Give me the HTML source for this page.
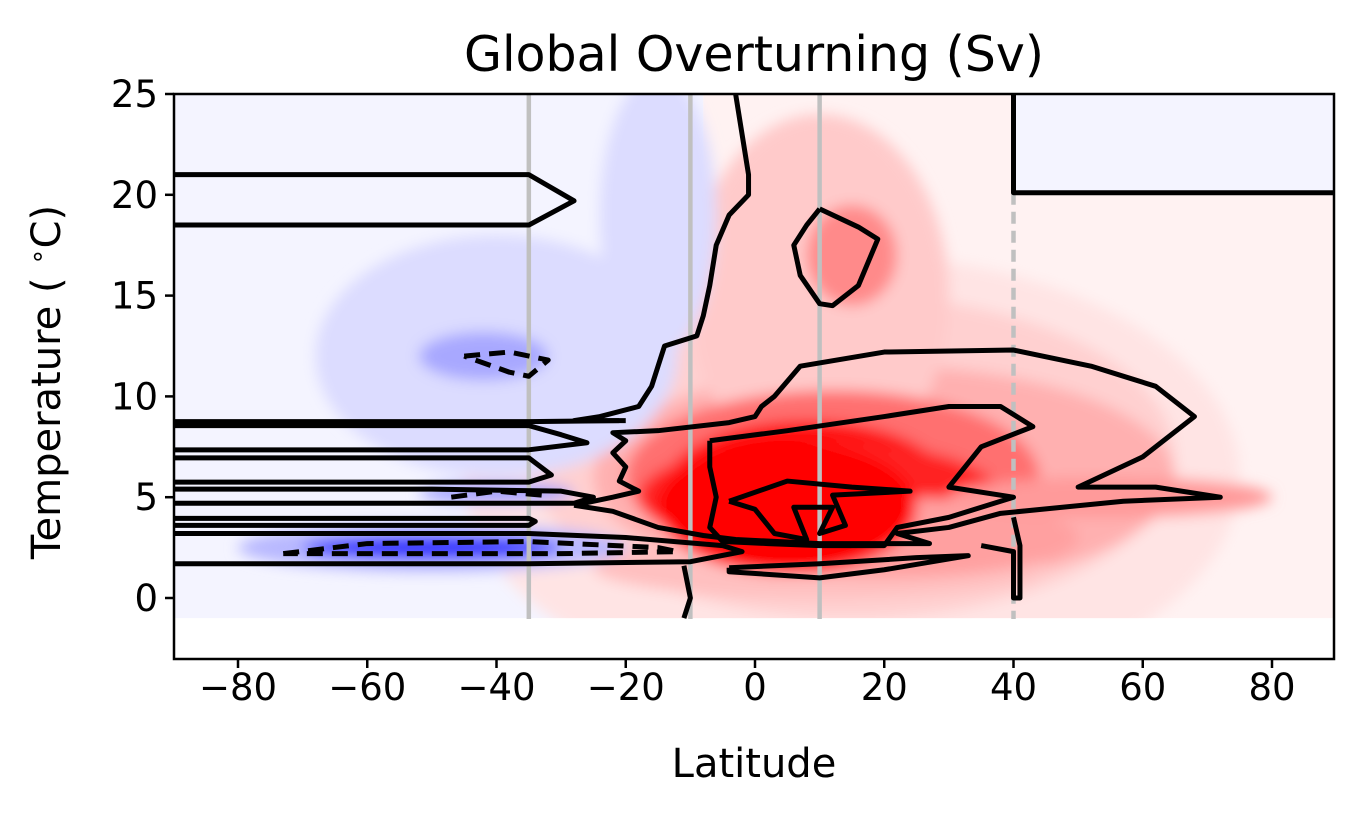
<!DOCTYPE html>
<html><head><meta charset="utf-8"><style>
body{margin:0;background:#fff}
svg{display:block;font-family:"DejaVu Sans","Liberation Sans",sans-serif}
</style></head><body>
<svg id="chart" width="1365" height="815" viewBox="0 0 1365 815" xmlns="http://www.w3.org/2000/svg">
<defs>
<clipPath id="clipData"><rect x="174" y="94" width="1160" height="525"/></clipPath>
<filter id="blur" x="-20%" y="-20%" width="140%" height="140%"><feGaussianBlur stdDeviation="7"/></filter>
</defs>
<text x="754" y="71" text-anchor="middle" font-size="49">Global Overturning (Sv)</text>
<g id="fills" clip-path="url(#clipData)"></g>
<g id="lines" clip-path="url(#clipData)"></g>
<rect x="174" y="94" width="1160" height="565" fill="none" stroke="#000" stroke-width="2.5"/>
<g id="axes"></g>
<text x="754" y="777" text-anchor="middle" font-size="40">Latitude</text>
<text transform="translate(60,382) rotate(-90)" text-anchor="middle" font-size="40">Temperature ( <tspan font-size="26" dy="-14">∘</tspan><tspan dy="14">C)</tspan></text>
</svg>
<script>
const xTicks=[-80,-60,-40,-20,0,20,40,60,80];
const yTicks=[0,5,10,15,20,25];
const refLats=[-35,-10,10];
const dashedRefLat=40;
const blobLat=[ 15, 15, 20, 10, 12, 8, 15, 10, 10, 20, 55, -40,-42,-50,-50,-40,-15, 5];
const blobTemp=[6, 7, 6, 15, 6, 5.5, 17, 5, 1.5, 3, 5, 12, 12, 2.5, 2.5, 5.2, 19, 4.5];
const blobRx=[60, 50, 45, 20, 32, 22, 7, 28, 35, 30, 25, 28, 10, 30, 20, 12, 9, 20];
const blobRy=[11, 8, 5.5, 9, 4.3, 3.3, 2.5, 2.8, 1.5, 2, 1.0, 6, 1.2, 1.2, 0.6, 0.5, 7, 3.3];
const blobColor=["#ffe4e4","#ffd0d0","#ffb0b0","#ffcaca","#ff7070","#ff1010","#ff8a8a","#ff2020","#ffc0c0","#ffa0a0","#ff9a9a","#dcdcff","#a8a8ff","#b8b8ff","#3030ff","#a0a0ff","#dcdcff","#ff0000"];
const contours=[
 {d:false,p:[[-90,21],[-35,21],[-28,19.7],[-35,18.5],[-90,18.5]]},
 {d:false,p:[[-3,25],[-2,23],[-1,21],[-1,20],[-4,19],[-6,17.5],[-7,15.5],[-8,14],[-9,13],[-14,12.5],[-15,11.5],[-16,10.5],[-18,9.5],[-24,9],[-28,8.8],[-20,8.8]]},
 {d:false,p:[[-90,8.75],[-35,8.75],[-21,8.8]]},
 {d:false,p:[[-90,8.55],[-35,8.55],[-30,8.1],[-26,7.7],[-35,7.35],[-90,7.35]]},
 {d:false,p:[[-90,6.95],[-35,6.95],[-31.5,6.1],[-35,5.75],[-90,5.75]]},
 {d:false,p:[[-90,5.4],[-50,5.4],[-30,5.3],[-25,5.0],[-28,4.7],[-90,4.7]]},
 {d:false,p:[[-90,3.95],[-35,3.95],[-34,3.8],[-35,3.6],[-90,3.6]]},
 {d:false,p:[[-90,3.2],[-35,3.2],[-20,3.0],[-5,2.6],[-2,2.3],[-10,1.8],[-35,1.7],[-90,1.7]]},
 {d:false,p:[[-11,1.6],[-10,0],[-11,-1]]},
 {d:false,p:[[-28,4.6],[-22,4.3],[-15,3.5],[-8,3.1],[-3,2.9],[10,2.7],[20,2.7],[27,2.7],[22,3.2],[30,3.5],[38,4.2],[57,4.8],[72,5],[62,5.5],[50,5.5],[60,7],[68,9],[62,10.5],[52,11.5],[40,12.3],[20,12.2],[7,11.5],[3,10],[1,9.5],[0,9],[-4,8.7],[-15,8.3],[-22,8.2],[-20,7.8],[-22,7.2],[-20,6.5],[-21,5.8],[-18,5.3],[-22,5.0],[-28,4.6]]},
 {d:false,p:[[-7,7.8],[5,8.3],[20,9],[30,9.5],[38,9.5],[43,8.5],[35,7.5],[30,5.5],[40,5.0],[30,4.0],[22,3.5],[20,2.6],[10,2.6],[2,2.7],[-5,2.8],[-7,3.5],[-6,5],[-7,6.5],[-7,7.8]]},
 {d:false,p:[[-4,4.8],[5,5.8],[15,5.5],[24,5.3],[12,5.1],[14,3.6],[10,3.2],[12,4.5],[6,4.5],[8,2.9],[3,3.2],[0,4.4],[-4,4.8]]},
 {d:false,p:[[10,19.3],[16,18.4],[19,17.8],[16,15.5],[12,14.5],[10,14.6],[7,16],[6,17.5],[8,18.5],[10,19.3]]},
 {d:false,p:[[-4,1.5],[10,1.7],[25,2.0],[33,2.1],[20,1.4],[10,1.0],[-4,1.3],[-4,1.5]]},
 {d:false,p:[[40,25],[40,20.1],[90,20.1]]},
 {d:false,p:[[40,4.0],[41,2.6],[41,0],[40,0],[40,2.3],[35,2.6]]},
 {d:true,p:[[-73,2.2],[-60,2.7],[-35,2.8],[-15,2.5],[-12,2.3],[-30,2.2],[-73,2.2]]},
 {d:true,p:[[-47,5.0],[-40,5.3],[-33,5.1],[-33,4.9]]},
 {d:true,p:[[-45,12],[-38,12.2],[-32,11.8],[-35,11],[-38,11.2],[-45,12]]}
];
const X0=755,XS=6.4625,Y0=598,YS=20.16;
const sx=v=>X0+v*XS, sy=v=>Y0-v*YS;
const NS="http://www.w3.org/2000/svg";
function mk(t,a,parent){const e=document.createElementNS(NS,t);for(const k in a)e.setAttribute(k,a[k]);parent.appendChild(e);return e;}
const fills=document.getElementById('fills'),lines=document.getElementById('lines'),axes=document.getElementById('axes');
let r=mk('rect',{x:sx(-90),y:sy(25),width:sx(-8)-sx(-90),height:sy(-1)-sy(25),fill:'#f4f4ff'},fills);


r=mk('rect',{x:sx(-8),y:sy(25),width:sx(90)-sx(-8),height:sy(-1)-sy(25),fill:'#fff2f2'},fills);


const bg=mk('g',{filter:'url(#blur)'},fills);
for(let i=0;i<blobLat.length;i++){
 const e=mk('ellipse',{cx:sx(blobLat[i]),cy:sy(blobTemp[i]),rx:blobRx[i]*XS,ry:blobRy[i]*YS,fill:blobColor[i]},bg);
 
 
}
r=mk('rect',{x:sx(40),y:sy(25),width:sx(90)-sx(40),height:sy(20.1)-sy(25),fill:'#f4f4ff'},fills);


r=mk('rect',{x:174,y:sy(-1),width:1160,height:60,fill:'#fff'},fills);


refLats.forEach(l=>{
 const ln=mk('line',{x1:sx(l),x2:sx(l),y1:94,y2:659,stroke:'#c0c0c0','stroke-width':4.5},lines);
 
 
});
const dl=mk('line',{x1:sx(dashedRefLat),x2:sx(dashedRefLat),y1:sy(20.1),y2:659,stroke:'#c0c0c0','stroke-width':4.5,'stroke-dasharray':'12,7'},lines);


contours.forEach(c=>{
 const pl=mk('polyline',{points:c.p.map(q=>sx(q[0])+','+sy(q[1])).join(' '),fill:'none',stroke:'#000','stroke-width':5,'stroke-linejoin':'round'},lines);
 if(c.d)pl.setAttribute('stroke-dasharray','16,9');
 
 
});
xTicks.forEach(v=>{
 const t=mk('line',{x1:sx(v),x2:sx(v),y1:659,y2:668,stroke:'#000','stroke-width':2.5},axes);
 
 
 const tx=mk('text',{x:sx(v),y:700,'text-anchor':'middle','font-size':37},axes);
 tx.textContent=(v<0?'\u2212'+(-v):v);
 
 
});
yTicks.forEach(v=>{
 const t=mk('line',{x1:165,x2:174,y1:sy(v),y2:sy(v),stroke:'#000','stroke-width':2.5},axes);
 
 
 const tx=mk('text',{x:158,y:sy(v)+13,'text-anchor':'end','font-size':37},axes);
 tx.textContent=v;
 
 
});
</script>
</body></html>
